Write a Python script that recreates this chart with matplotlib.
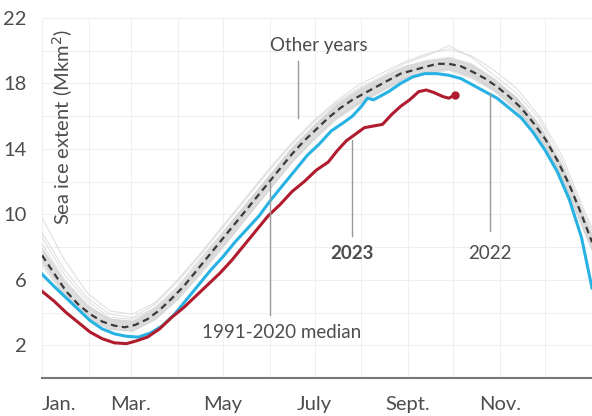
import matplotlib
matplotlib.use("Agg")
import matplotlib.pyplot as plt

plt.rcParams['font.family'] = ['Lato', 'DejaVu Sans']

# Day-of-year grid for the "other years" bundle and the median band
grid_days = [0, 15, 30, 45, 60, 75, 90, 105, 120, 135, 150, 165, 180, 195,
             210, 225, 240, 255, 270, 285, 300, 315, 330, 345, 360, 365]

# A handful of individual other years
other_years = [
    [9.8, 7.2, 5.2, 4.1, 3.9, 4.6, 6.0, 7.6, 9.3, 11.0, 12.7, 14.3, 15.7, 16.9,
     17.9, 18.6, 19.3, 19.8, 20.1, 19.7, 18.8, 17.7, 16.0, 13.6, 10.2, 9.2],
    [8.6, 6.3, 4.7, 3.7, 3.6, 4.3, 5.6, 7.3, 8.9, 10.6, 12.2, 13.8, 15.3, 16.6,
     17.5, 18.3, 19.0, 19.4, 19.6, 19.2, 18.3, 17.1, 15.5, 13.0, 9.8, 8.8],
    [7.9, 5.9, 4.4, 3.6, 3.4, 4.1, 5.3, 6.8, 8.6, 10.4, 12.1, 13.9, 15.2, 16.5,
     17.4, 18.1, 18.7, 19.1, 19.3, 18.9, 18.0, 16.9, 15.2, 12.8, 9.4, 8.4],
    [6.9, 5.0, 3.7, 3.0, 2.9, 3.6, 4.8, 6.3, 8.0, 9.7, 11.4, 13.1, 14.6, 15.9,
     16.8, 17.6, 18.3, 18.7, 18.9, 18.5, 17.6, 16.5, 14.8, 12.3, 8.9, 7.8],
    [8.2, 6.0, 4.5, 3.5, 3.3, 3.9, 5.0, 6.6, 8.3, 10.0, 11.8, 13.5, 15.0, 16.2,
     17.3, 18.0, 18.8, 19.3, 19.5, 19.1, 18.2, 17.0, 15.3, 12.9, 9.6, 8.6],
    [7.2, 5.3, 3.9, 3.2, 3.1, 3.8, 5.1, 6.7, 8.4, 10.2, 11.9, 13.5, 14.9, 16.3,
     17.2, 17.9, 18.6, 19.0, 19.1, 18.6, 17.7, 16.6, 14.9, 12.4, 9.0, 8.0],
    [8.9, 6.6, 4.9, 3.9, 3.7, 4.5, 5.9, 7.5, 9.2, 10.9, 12.6, 14.2, 15.6, 16.8,
     17.7, 18.4, 19.2, 19.7, 20.3, 19.6, 18.5, 17.4, 15.8, 13.3, 10.0, 9.0],
]

band_low = [7.0, 5.0, 3.65, 2.95, 2.85, 3.55, 4.8, 6.4, 8.0, 9.7, 11.4, 13.1, 14.5,
            15.8, 16.7, 17.5, 18.2, 18.6, 18.8, 18.3, 17.5, 16.3, 14.6, 12.1, 8.8, 7.8]
band_high = [8.0, 5.9, 4.45, 3.65, 3.55, 4.35, 5.6, 7.3, 9.0, 10.7, 12.4, 14.1, 15.5,
             16.8, 17.7, 18.4, 19.1, 19.4, 19.6, 19.2, 18.3, 17.2, 15.5, 13.1, 9.8, 8.8]

# 1991-2020 median
median_days = [0, 8, 16, 24, 32, 40, 48, 55, 62, 70, 78, 86, 94, 102, 110, 118,
               126, 134, 142, 150, 158, 166, 174, 182, 190, 198, 206, 214, 222,
               230, 238, 246, 254, 262, 270, 278, 286, 294, 302, 310, 318, 326,
               334, 342, 350, 358, 365]
median_vals = [7.5, 6.4, 5.3, 4.5, 3.9, 3.45, 3.2, 3.1, 3.25, 3.6, 4.15, 4.85, 5.6,
               6.5, 7.4, 8.3, 9.2, 10.1, 11.0, 11.9, 12.8, 13.7, 14.5, 15.2, 15.9,
               16.5, 17.0, 17.4, 17.8, 18.2, 18.6, 18.8, 19.0, 19.2, 19.2, 19.05,
               18.7, 18.3, 17.8, 17.2, 16.5, 15.6, 14.6, 13.3, 11.8, 10.0, 8.3]

# 2022
y2022_days = [0, 8, 16, 24, 32, 40, 48, 56, 64, 72, 80, 88, 96, 104, 112, 120, 128,
              136, 144, 152, 160, 168, 176, 184, 192, 200, 206, 212, 216, 220, 224,
              230, 238, 246, 254, 262, 270, 278, 286, 294, 302, 310, 318, 326, 334,
              342, 350, 358, 365]
y2022_vals = [6.35, 5.6, 4.9, 4.2, 3.5, 3.0, 2.7, 2.55, 2.5, 2.75, 3.2, 3.9, 4.8,
              5.7, 6.6, 7.4, 8.3, 9.1, 9.9, 10.9, 11.8, 12.7, 13.6, 14.3, 15.1,
              15.6, 16.0, 16.6, 17.1, 17.0, 17.2, 17.5, 18.0, 18.4, 18.6, 18.6,
              18.5, 18.3, 17.9, 17.5, 17.1, 16.5, 15.9, 15.0, 13.9, 12.6, 10.9, 8.6, 5.5]

# 2023 (to date)
y2023_days = [0, 8, 16, 24, 32, 40, 48, 56, 62, 70, 78, 86, 94, 102, 110, 118, 126,
              134, 142, 150, 158, 166, 174, 182, 190, 196, 202, 208, 214, 220, 226,
              232, 238, 244, 250, 255, 260, 266, 270, 274]
y2023_vals = [5.3, 4.7, 4.0, 3.4, 2.8, 2.4, 2.15, 2.1, 2.25, 2.5, 3.0, 3.7, 4.3,
              5.0, 5.7, 6.4, 7.2, 8.1, 9.0, 9.9, 10.6, 11.4, 12.0, 12.7, 13.2, 13.9,
              14.5, 14.9, 15.3, 15.4, 15.5, 16.1, 16.6, 17.0, 17.5, 17.6, 17.45,
              17.2, 17.1, 17.3]

month_starts = [0, 31, 59, 90, 120, 151, 181, 212, 243, 273, 304, 334, 365]
xtick_days = [0, 59, 120, 181, 243, 304]
xtick_labels = ['Jan.', 'Mar.', 'May', 'July', 'Sept.', 'Nov.']
ytick_vals = [2, 6, 10, 14, 18, 22]

text_col = '#4d4d4d'
blue = '#27b2e3'
red = '#b01c2e'

fig = plt.figure(figsize=(5.92, 4.16), dpi=100)
ax = fig.add_axes([42 / 592, 38 / 416, 550 / 592, 360 / 416])

# other years
for vals in other_years:
    ax.plot(grid_days, vals, color='#d9d9d9', lw=0.8, alpha=0.8, zorder=2)
ax.fill_between(grid_days, band_low, band_high, color='#d0d0d0', alpha=0.7,
                lw=0, zorder=3)

ax.plot(y2022_days, y2022_vals, color=blue, lw=2.2, zorder=4)
ax.plot(y2023_days, y2023_vals, color=red, lw=2.2, zorder=5)
ax.plot(y2023_days[-1:], y2023_vals[-1:], 'o', color=red, ms=5, zorder=6)
ax.plot(median_days, median_vals, color='#3a3a3a', lw=1.6, ls=(0, (3, 2)),
        zorder=6)

ax.set_xlim(0, 365)
ax.set_ylim(0, 22)

ax.set_xticks(xtick_days)
ax.set_xticklabels(xtick_labels)
ax.get_xticklabels()[0].set_horizontalalignment('left')
ax.set_xticks(month_starts, minor=True)
ax.set_yticks(ytick_vals)
ax.set_yticks(range(0, 23, 2), minor=True)

ax.grid(which='minor', color='#efefef', lw=0.8, zorder=0)
ax.grid(which='major', color='#efefef', lw=0.8, zorder=0)
ax.set_axisbelow(True)

ax.tick_params(which='both', length=0, labelsize=14.5, colors=text_col)
ax.tick_params(axis='y', pad=11)
ax.tick_params(axis='x', pad=13)

for side in ['top', 'right', 'left']:
    ax.spines[side].set_visible(False)
ax.spines['bottom'].set_color('#777777')
ax.spines['bottom'].set_linewidth(1.5)

ax.text(14, 21.3, 'Sea ice extent (Mkm$^2$)', rotation=90, ha='center', va='top',
        fontsize=14.5, color=text_col)

# annotations with leader lines
lead = dict(color='#9a9a9a', lw=1, zorder=7)
ax.text(184, 20.3, 'Other years', ha='center', va='center', fontsize=13.5,
        color=text_col)
ax.plot([170, 170], [19.4, 15.9], **lead)

ax.text(206, 7.6, '2023', ha='center', va='center', fontsize=13.5,
        fontweight='bold', color=text_col)
ax.plot([206, 206], [8.65, 14.55], **lead)

ax.text(297, 7.6, '2022', ha='center', va='center', fontsize=13.5,
        color=text_col)
ax.plot([297, 297], [9.0, 17.4], **lead)

ax.text(159, 2.8, '1991-2020 median', ha='center', va='center', fontsize=13.5,
        color=text_col)
ax.plot([151, 151], [3.85, 12.0], **lead)

fig.savefig('out.png', dpi=100)
